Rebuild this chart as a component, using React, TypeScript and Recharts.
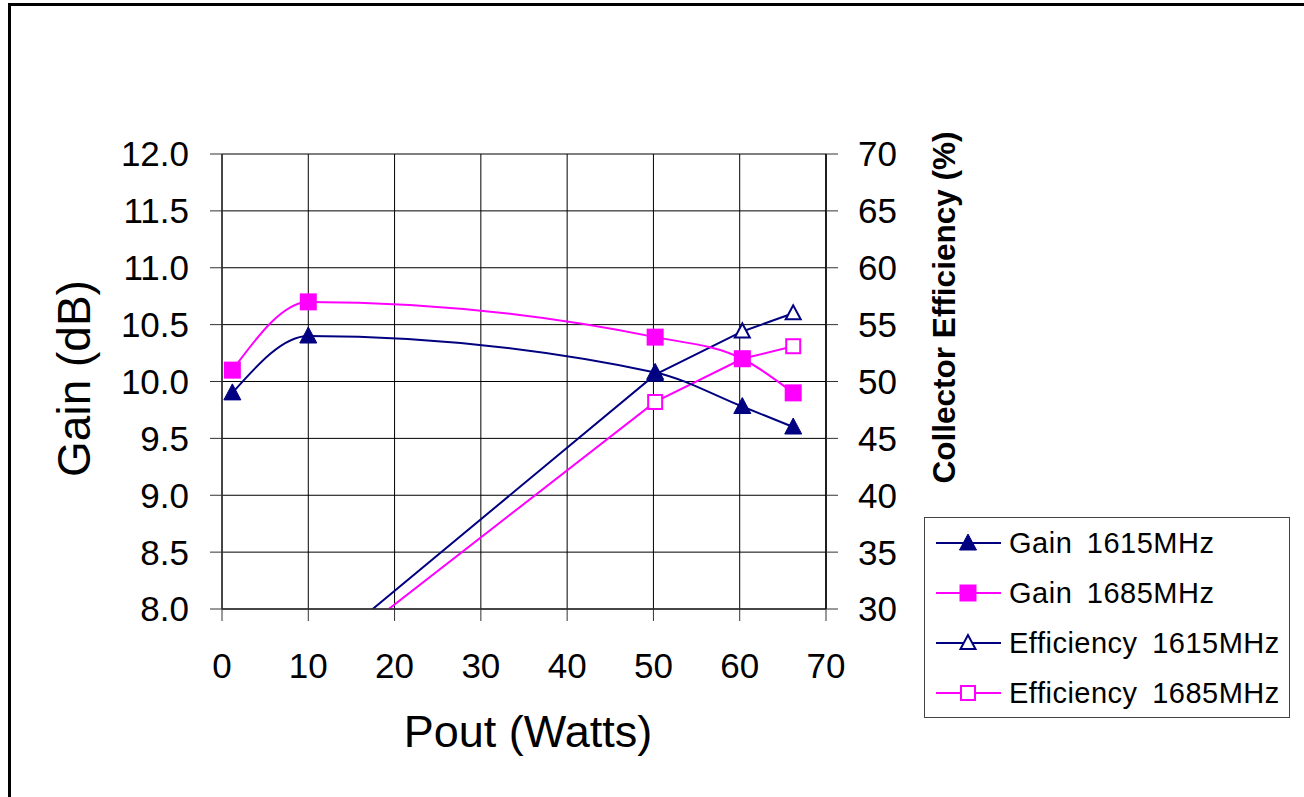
import { LineChart, Line, XAxis, YAxis, CartesianGrid, Legend } from 'recharts';

// Pout (W) at each measured point
const poutW = [1.2, 10, 50.2, 60.3, 66.2];
const gain1615 = [9.9, 10.4, 10.08, 9.78, 9.6];
const gain1685 = [10.1, 10.7, 10.39, 10.2, 9.9];
const eff1615 = [19.8, 25.3, 50.6, 54.4, 56.0];
const eff1685 = [19.2, 24.5, 48.2, 52.0, 53.1];

const xTicks = [0, 10, 20, 30, 40, 50, 60, 70];
const gainTicks = [8, 8.5, 9, 9.5, 10, 10.5, 11, 11.5, 12];
const effTicks = [30, 35, 40, 45, 50, 55, 60, 65, 70];

const NAVY = '#000080';
const MAGENTA = '#FF00FF';
const FONT = "'Liberation Sans', Arial, sans-serif";

const data = poutW.map((p, i) => ({
  pout: p,
  gain1615: gain1615[i],
  gain1685: gain1685[i],
  eff1615: eff1615[i],
  eff1685: eff1685[i],
}));

type Shape = 'triangle' | 'square';

const series = [
  { key: 'gain1615', name: 'Gain 1615MHz', color: NAVY, shape: 'triangle' as Shape, filled: true, axis: 'left', curve: 'monotone' },
  { key: 'gain1685', name: 'Gain 1685MHz', color: MAGENTA, shape: 'square' as Shape, filled: true, axis: 'left', curve: 'monotone' },
  { key: 'eff1615', name: 'Efficiency 1615MHz', color: NAVY, shape: 'triangle' as Shape, filled: false, axis: 'right', curve: 'linear' },
  { key: 'eff1685', name: 'Efficiency 1685MHz', color: MAGENTA, shape: 'square' as Shape, filled: false, axis: 'right', curve: 'linear' },
];

function Marker({ cx, cy, shape, color, filled }: { cx: number; cy: number; shape: Shape; color: string; filled: boolean }) {
  if (shape === 'triangle') {
    const s = filled ? 8.5 : 7.5;
    const pts = `${cx},${cy - s - 0.5} ${cx - s},${cy + s - 1.5} ${cx + s},${cy + s - 1.5}`;
    return filled ? (
      <polygon points={pts} fill={color} stroke={color} strokeWidth={1} />
    ) : (
      <polygon points={pts} fill="#fff" stroke={color} strokeWidth={2} />
    );
  }
  const h = filled ? 8.5 : 7;
  return filled ? (
    <rect x={cx - h} y={cy - h} width={h * 2} height={h * 2} fill={color} />
  ) : (
    <rect x={cx - h} y={cy - h} width={h * 2} height={h * 2} fill="#fff" stroke={color} strokeWidth={2} />
  );
}

const makeDot = (shape: Shape, color: string, filled: boolean) => (props: any) => {
  const { cx, cy, index } = props;
  if (cx == null || cy == null) return <g key={`d-${index}`} />;
  return (
    <g key={`d-${index}`}>
      <Marker cx={cx} cy={cy} shape={shape} color={color} filled={filled} />
    </g>
  );
};

function GainTitle(props: any) {
  const vb = props.viewBox ?? { x: 72, y: 154, width: 150, height: 455 };
  return (
    <text
      transform={`translate(${vb.x + 18},${vb.y + vb.height / 2 - 3}) rotate(-90)`}
      textAnchor="middle"
      fontSize={46}
      fill="#000"
    >
      Gain (dB)
    </text>
  );
}

function EffTitle(props: any) {
  const vb = props.viewBox ?? { x: 826, y: 154, width: 100, height: 455 };
  return (
    <text
      transform={`translate(${vb.x + 129},${vb.y + vb.height / 2 - 74}) rotate(-90)`}
      textAnchor="middle"
      fontSize={31.5}
      fontWeight="bold"
      fill="#000"
    >
      Collector Efficiency (%)
    </text>
  );
}

function PoutTitle(props: any) {
  const vb = props.viewBox ?? { x: 222, y: 609, width: 604, height: 60 };
  return (
    <text x={vb.x + vb.width / 2 + 4} y={vb.y + 138} textAnchor="middle" fontSize={45} fill="#000">
      Pout (Watts)
    </text>
  );
}

function LegendBox() {
  return (
    <div
      style={{
        width: 366,
        height: 201,
        boxSizing: 'border-box',
        border: '1px solid #444',
        background: '#fff',
        paddingTop: 0,
        fontFamily: FONT,
      }}
    >
      {series.map((s) => (
        <div key={s.key} style={{ height: 50, display: 'flex', alignItems: 'center' }}>
          <svg width={84} height={30} style={{ flex: 'none' }}>
            <line x1={11} x2={76} y1={15} y2={15} stroke={s.color} strokeWidth={2} />
            <Marker cx={43} cy={15} shape={s.shape} color={s.color} filled={s.filled} />
          </svg>
          <span style={{ fontSize: 29, letterSpacing: 0.5, wordSpacing: 6, color: '#000', whiteSpace: 'nowrap' }}>
            {s.name}
          </span>
        </div>
      ))}
    </div>
  );
}

export default function App() {
  // efficiency drawn first so the gain markers sit on top
  const drawOrder = [series[2], series[3], series[0], series[1]];
  return (
    <div style={{ position: 'fixed', inset: 0, overflow: 'hidden', background: '#fff', fontFamily: FONT }}>
      <div
        style={{
          position: 'absolute',
          left: 8,
          top: 3,
          width: 1400,
          height: 900,
          border: '3px solid #000',
        }}
      />
      <div style={{ position: 'absolute', left: 0, top: 0 }}>
        <LineChart
          width={1304}
          height={797}
          data={data}
          margin={{ top: 154, right: 378, bottom: 128, left: 72 }}
        >
          <CartesianGrid yAxisId="left" stroke="#000" strokeWidth={1} />
          <XAxis
            dataKey="pout"
            type="number"
            domain={[0, 70]}
            ticks={xTicks}
            interval={0}
            height={60}
            tickSize={12}
            tickMargin={32}
            tick={{ fontSize: 35, fill: '#000' }}
            axisLine={{ stroke: '#333', strokeWidth: 1.5 }}
            tickLine={{ stroke: '#333' }}
            label={<PoutTitle />}
          />
          <YAxis
            yAxisId="left"
            orientation="left"
            type="number"
            domain={[8, 12]}
            ticks={gainTicks}
            interval={0}
            width={150}
            tickSize={12}
            tickMargin={21}
            tickFormatter={(v: number) => v.toFixed(1)}
            tick={{ fontSize: 35, fill: '#000' }}
            axisLine={{ stroke: '#333', strokeWidth: 1.5 }}
            tickLine={{ stroke: '#333' }}
            label={<GainTitle />}
          />
          <YAxis
            yAxisId="right"
            orientation="right"
            type="number"
            domain={[30, 70]}
            allowDataOverflow
            ticks={effTicks}
            interval={0}
            width={100}
            tickSize={12}
            tickMargin={20}
            tick={{ fontSize: 35, fill: '#000' }}
            axisLine={{ stroke: '#000', strokeWidth: 1.5 }}
            tickLine={{ stroke: '#333' }}
            label={<EffTitle />}
          />
          {drawOrder.map((s) => (
            <Line
              key={s.key}
              yAxisId={s.axis}
              dataKey={s.key}
              name={s.name}
              type={s.curve as any}
              stroke={s.color}
              strokeWidth={2}
              dot={makeDot(s.shape, s.color, s.filled)}
              activeDot={false}
              isAnimationActive={false}
            />
          ))}
          <Legend
            layout="vertical"
            align="center"
            verticalAlign="middle"
            wrapperStyle={{ left: 924, top: 517, width: 366, height: 201 }}
            content={() => <LegendBox />}
          />
        </LineChart>
      </div>
    </div>
  );
}
